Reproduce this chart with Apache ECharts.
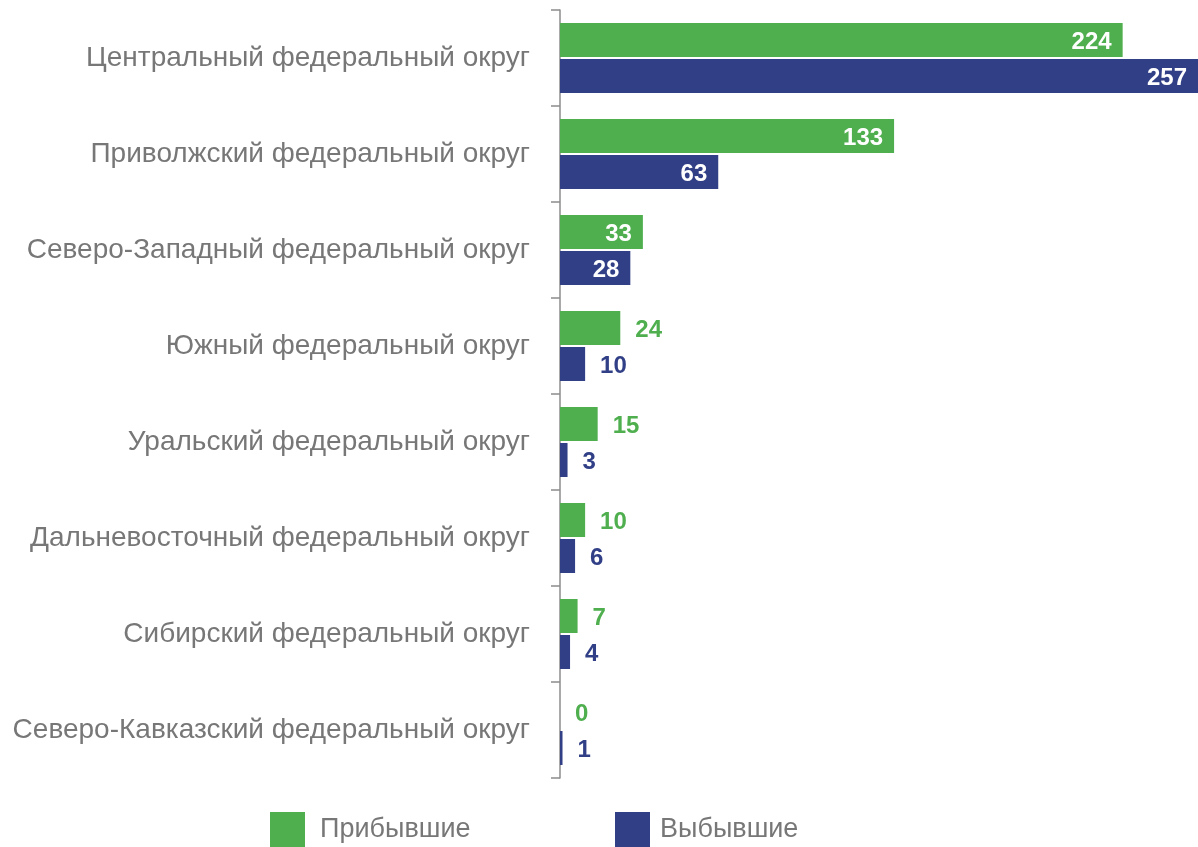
<!DOCTYPE html>
<html>
<head>
    <meta charset="utf-8">
    <title>Федеральные округа</title>
    <script src="https://cdn.jsdelivr.net/npm/echarts@6/dist/echarts.min.js"></script>
    <style>
        html, body { margin: 0; padding: 0; background: #fff; }
        #main { width: 1198px; height: 847px; }
    </style>
</head>
<body>
<div id="main"></div>
<script type="text/javascript">
// categories, top to bottom
var okruga = [
    'Центральный федеральный округ',
    'Приволжский федеральный округ',
    'Северо-Западный федеральный округ',
    'Южный федеральный округ',
    'Уральский федеральный округ',
    'Дальневосточный федеральный округ',
    'Сибирский федеральный округ',
    'Северо-Кавказский федеральный округ'
];
var pribyvshie = [224, 133, 33, 24, 15, 10, 7, 0];
var vybyvshie = [257, 63, 28, 10, 3, 6, 4, 1];

var GREEN = '#4faf4f';
var BLUE = '#313f86';
var FONT = 'Liberation Sans, Arial, sans-serif';

// big bars get a white label inside, small ones a coloured label outside
function withLabels(values, color) {
    return values.map(function (v) {
        var inside = v >= 28;
        return {
            value: v,
            label: {
                show: true,
                position: inside ? 'insideRight' : 'right',
                distance: inside ? 11 : 15,
                offset: [0, 2],
                color: inside ? '#fff' : color,
                fontWeight: 'bold',
                fontSize: 24,
                fontFamily: FONT
            }
        };
    });
}

var myChart = echarts.init(document.getElementById('main'));

myChart.setOption({
    animation: false,
    grid: {
        left: 560,
        right: 0,
        top: 10,
        bottom: 69
    },
    legend: [
        {
            data: ['Прибывшие'],
            left: 270,
            top: 812,
            padding: 0,
            itemWidth: 35,
            itemHeight: 35,
            icon: 'rect',
            textStyle: { color: '#777', fontSize: 27, fontFamily: FONT, padding: [6, 0, 0, 10] }
        },
        {
            data: ['Выбывшие'],
            left: 615,
            top: 812,
            padding: 0,
            itemWidth: 35,
            itemHeight: 35,
            icon: 'rect',
            textStyle: { color: '#777', fontSize: 27, fontFamily: FONT, padding: [6, 0, 0, 5] }
        }
    ],
    xAxis: {
        type: 'value',
        min: 0,
        max: 254,
        axisLine: { show: false },
        axisTick: { show: false },
        axisLabel: { show: false },
        splitLine: { show: false }
    },
    yAxis: {
        type: 'category',
        inverse: true,
        data: okruga,
        axisLine: { show: true, lineStyle: { color: '#8c8c8c', width: 1.5 } },
        axisTick: { show: true, length: 9, lineStyle: { color: '#8c8c8c', width: 1.5 } },
        axisLabel: {
            margin: 30,
            color: '#777',
            fontSize: 28,
            fontFamily: FONT,
            padding: [5, 0, 0, 0]
        }
    },
    series: [
        {
            name: 'Прибывшие',
            type: 'bar',
            barWidth: 34,
            barGap: '6%',
            clip: true,
            itemStyle: { color: GREEN },
            data: withLabels(pribyvshie, GREEN)
        },
        {
            name: 'Выбывшие',
            type: 'bar',
            barWidth: 34,
            barGap: '6%',
            clip: true,
            itemStyle: { color: BLUE },
            data: withLabels(vybyvshie, BLUE)
        }
    ]
});
</script>
</body>
</html>
